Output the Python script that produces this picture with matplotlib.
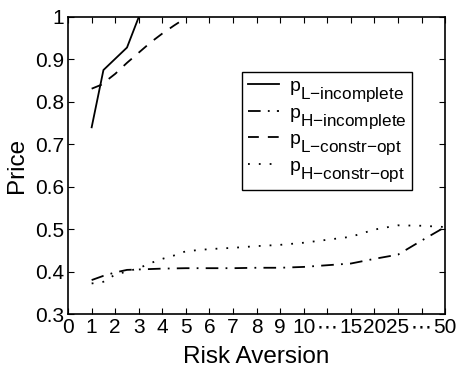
import matplotlib
matplotlib.use("Agg")
import matplotlib.pyplot as plt
import matplotlib._mathtext as _mt

_mt.SHRINK_FACTOR = 0.88
_mt.FontConstantsBase.sub1 = 0.8

plt.rcParams['font.family'] = ['Liberation Sans', 'DejaVu Sans']
plt.rcParams['mathtext.fontset'] = 'custom'
plt.rcParams['mathtext.rm'] = 'Liberation Sans'
plt.rcParams['mathtext.it'] = 'Liberation Sans'

tick_labels = ['0', '1', '2', '3', '4', '5', '6', '7', '8', '9', '10', '\u22ef', '15', '20', '25', '\u22ef', '50']
tick_pos = list(range(len(tick_labels)))

x_L_inc = [1, 1.5, 2.5, 3, 3.5]
p_L_inc = [0.74, 0.875, 0.928, 1.0, 1.08]

x_L_opt = [1, 1.4, 2, 2.5, 3, 3.5, 4, 4.5, 5]
p_L_opt = [0.831, 0.84, 0.866, 0.892, 0.916, 0.94, 0.961, 0.98, 0.998]

x_H_inc = [1, 1.5, 2, 2.5, 3, 4, 5, 6, 7, 8, 9, 10, 11, 12, 13, 14, 15, 16]
p_H_inc = [0.38, 0.39, 0.398, 0.404, 0.405, 0.407, 0.408, 0.408, 0.408, 0.409, 0.409,
           0.411, 0.415, 0.419, 0.43, 0.44, 0.473, 0.505]

x_H_opt = [1, 1.5, 2, 2.5, 3, 3.5, 4, 4.5, 5, 6, 7, 8, 9, 10, 11, 12, 13, 14, 15, 16]
p_H_opt = [0.372, 0.376, 0.393, 0.4, 0.408, 0.42, 0.43, 0.438, 0.448, 0.453, 0.456,
           0.46, 0.463, 0.468, 0.475, 0.482, 0.499, 0.509, 0.508, 0.505]

labels = ['$\\mathregular{p_{L{-}incomplete}}$',
          '$\\mathregular{p_{H{-}incomplete}}$',
          '$\\mathregular{p_{L{-}constr{-}opt}}$',
          '$\\mathregular{p_{H{-}constr{-}opt}}$']

fig = plt.figure(figsize=(4.57, 3.69), dpi=100)
ax = fig.add_axes([0.149, 0.149, 0.825, 0.805])

lw = 1.3
ax.plot(x_L_inc, p_L_inc, color='black', lw=lw, linestyle='-', label=labels[0])
ax.plot(x_H_inc, p_H_inc, color='black', lw=lw, linestyle=(0, (7, 4, 1, 4)), label=labels[1])
ax.plot(x_L_opt, p_L_opt, color='black', lw=lw, linestyle=(0, (6, 5)), label=labels[2])
ax.plot(x_H_opt, p_H_opt, color='black', lw=lw, linestyle=(0, (1, 5)), label=labels[3])

ax.set_xlim(0, 16)
ax.set_ylim(0.3, 1.0)
ax.set_xticks(tick_pos)
ax.set_xticklabels(tick_labels)
ax.set_yticks([0.3, 0.4, 0.5, 0.6, 0.7, 0.8, 0.9, 1.0])
ax.set_yticklabels(['0.3', '0.4', '0.5', '0.6', '0.7', '0.8', '0.9', '1'])
ax.tick_params(direction='in', length=4.5, width=0.8, top=True, right=True,
               labelsize=15, pad=3, colors='black')
for s in ax.spines.values():
    s.set_linewidth(1.2)

ax.set_xlabel('Risk Aversion', fontsize=17.5, labelpad=6)
ax.set_ylabel('Price', fontsize=17.5, labelpad=5)

leg = ax.legend(loc='upper left', bbox_to_anchor=(0.461, 0.816), fontsize=14,
                frameon=True, fancybox=False, edgecolor='black', framealpha=1,
                handlelength=1.6, handletextpad=0.5, borderpad=0.3, labelspacing=0.0,
                borderaxespad=0)
leg.get_frame().set_linewidth(1.0)

fig.savefig('out.png', dpi=100)
